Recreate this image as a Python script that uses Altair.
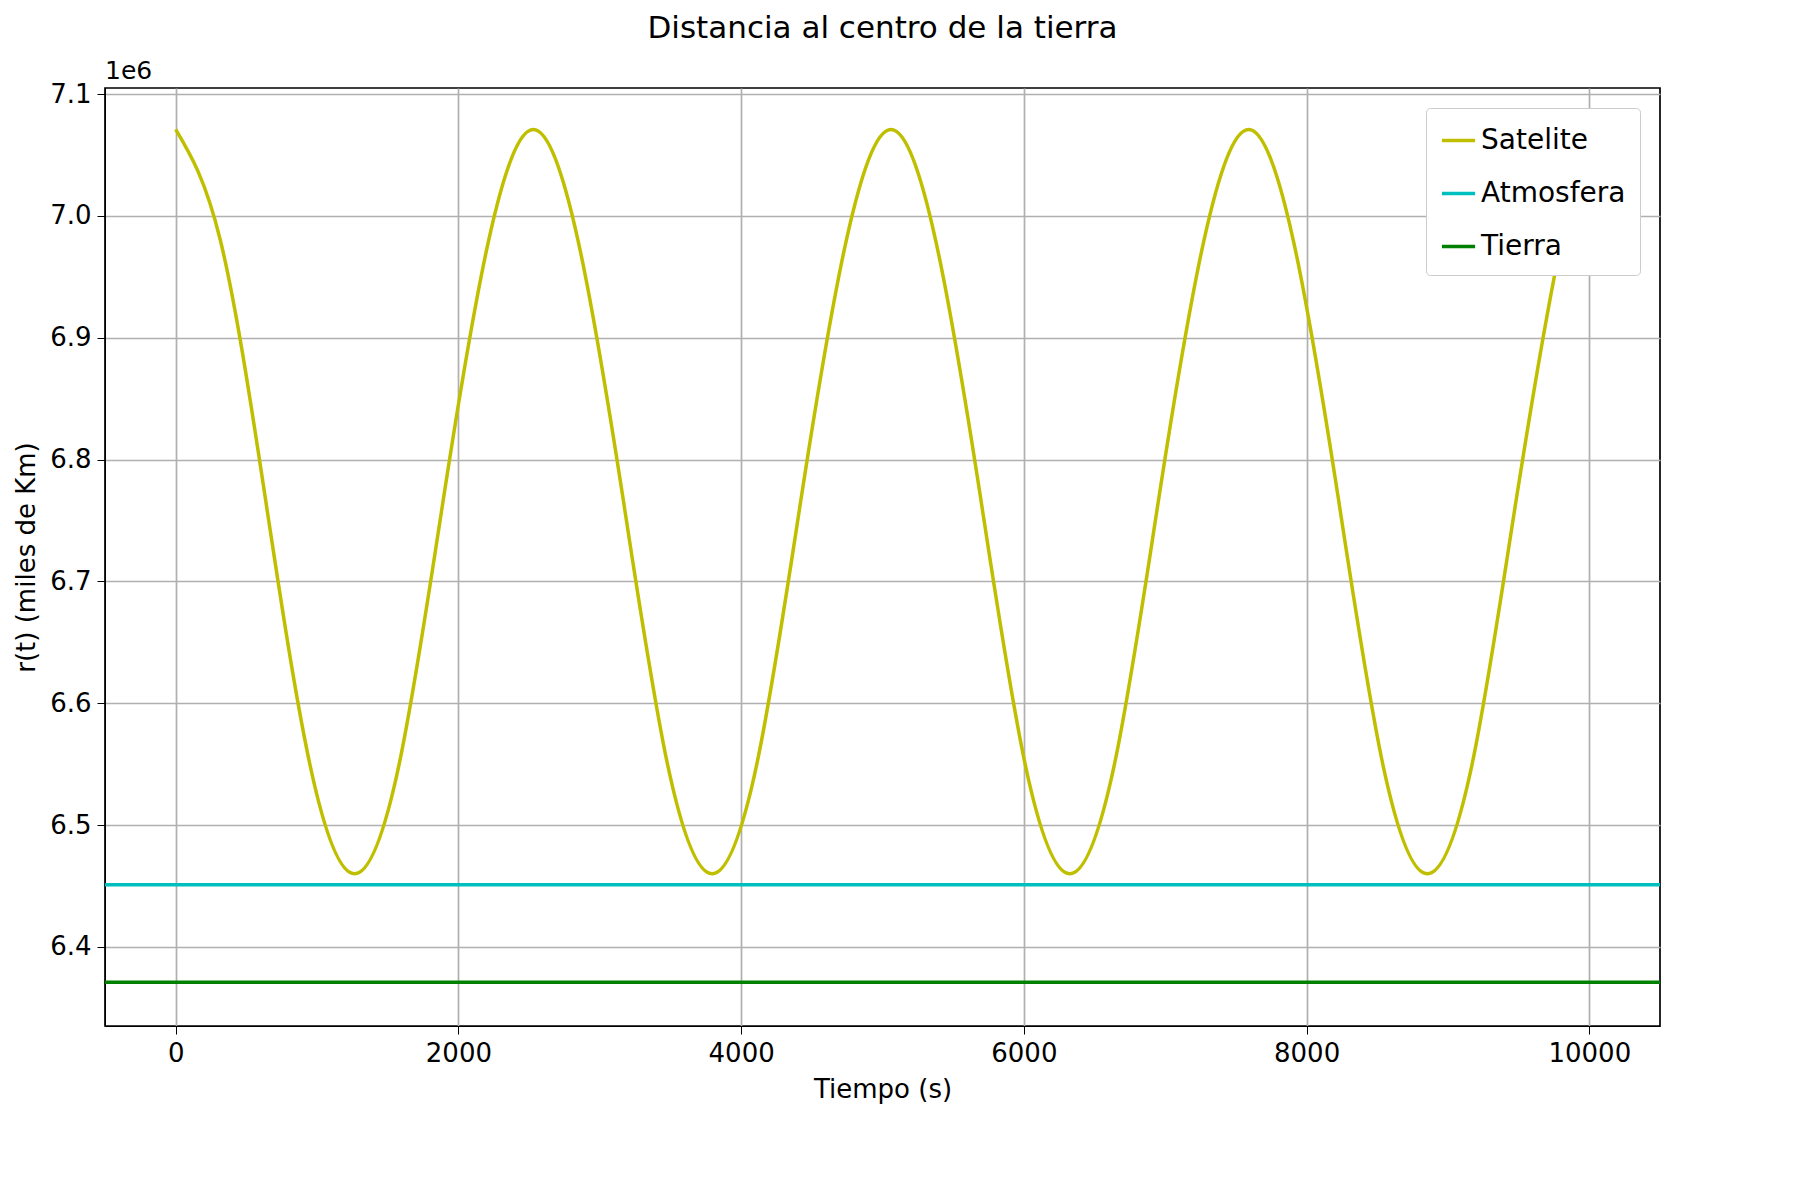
import pandas as pd
import altair as alt

# satellite distance
t = [0, 316, 632, 949, 1265, 1581, 1897, 2214, 2530,
     2846, 3162, 3479, 3795, 4111, 4427, 4744, 5060,
     5376, 5692, 6009, 6325, 6641, 6957, 7274, 7590,
     7906, 8222, 8539, 8855, 9171, 9487, 9804, 10000]
r = [7.071, 6.98, 6.77, 6.55, 6.46, 6.55, 6.77, 6.98, 7.071,
     6.98, 6.77, 6.55, 6.46, 6.55, 6.77, 6.98, 7.071,
     6.98, 6.77, 6.55, 6.46, 6.55, 6.77, 6.98, 7.071,
     6.98, 6.77, 6.55, 6.46, 6.55, 6.77, 6.98, 7.06]
atmosfera = 6.451
tierra = 6.371
series = ["Satelite", "Atmosfera", "Tierra"]
colors = ["#bfbf00", "#00bfbf", "#008000"]

rows = [{"t": a, "r": b * 1e6, "s": "Satelite"} for a, b in zip(t, r)]
rows += [{"t": x, "r": atmosfera * 1e6, "s": "Atmosfera"} for x in (-500, 10500)]
rows += [{"t": x, "r": tierra * 1e6, "s": "Tierra"} for x in (-500, 10500)]
df = pd.DataFrame(rows)

font = "DejaVu Sans"

lines = alt.Chart(df).mark_line(strokeWidth=3.5, interpolate="natural", clip=True).encode(
    x=alt.X("t:Q", title="Tiempo (s)", scale=alt.Scale(domain=[-500, 10500], nice=False),
            axis=alt.Axis(values=[0, 2000, 4000, 6000, 8000, 10000], format="d")),
    y=alt.Y("r:Q", title="r(t) (miles de Km)",
            scale=alt.Scale(domain=[6.335e6, 7.105e6], nice=False, zero=False),
            axis=alt.Axis(values=[6.4e6, 6.5e6, 6.6e6, 6.7e6, 6.8e6, 6.9e6, 7.0e6, 7.1e6],
                          labelExpr="format(datum.value / 1e6, '.1f')")),
    color=alt.Color("s:N", sort=series, title=None,
                    scale=alt.Scale(domain=series, range=colors),
                    legend=alt.Legend(orient="top-right", fillColor="white", strokeColor="#cccccc",
                                      padding=14, symbolType="stroke", symbolStrokeWidth=3.5,
                                      symbolSize=1100, labelFontSize=28, rowPadding=20,
                                      cornerRadius=4, offset=20)),
    detail="s:N",
)

mult = alt.Chart(pd.DataFrame({"txt": ["1e6"]})).mark_text(
    align="left", baseline="bottom", fontSize=25, font=font, dy=-4
).encode(x=alt.value(0), y=alt.value(0), text="txt:N")

chart = (lines + mult).properties(
    width=1555, height=938, background="white",
    title=alt.TitleParams("Distancia al centro de la tierra", fontSize=31, font=font,
                          fontWeight="normal", offset=14),
).configure_axis(
    labelFont=font, titleFont=font, labelFontSize=26, titleFontSize=26,
    titleFontWeight="normal", grid=True, gridColor="#b0b0b0", gridWidth=1.7,
    domainColor="black", tickColor="black", labelColor="black", titleColor="black",
    tickSize=8, labelPadding=6, titlePadding=10,
).configure_legend(labelFont=font, labelColor="black").configure_view(
    stroke="black", strokeWidth=1.7
)

chart.save("out.html", embed_options={"renderer": "svg", "actions": False})
